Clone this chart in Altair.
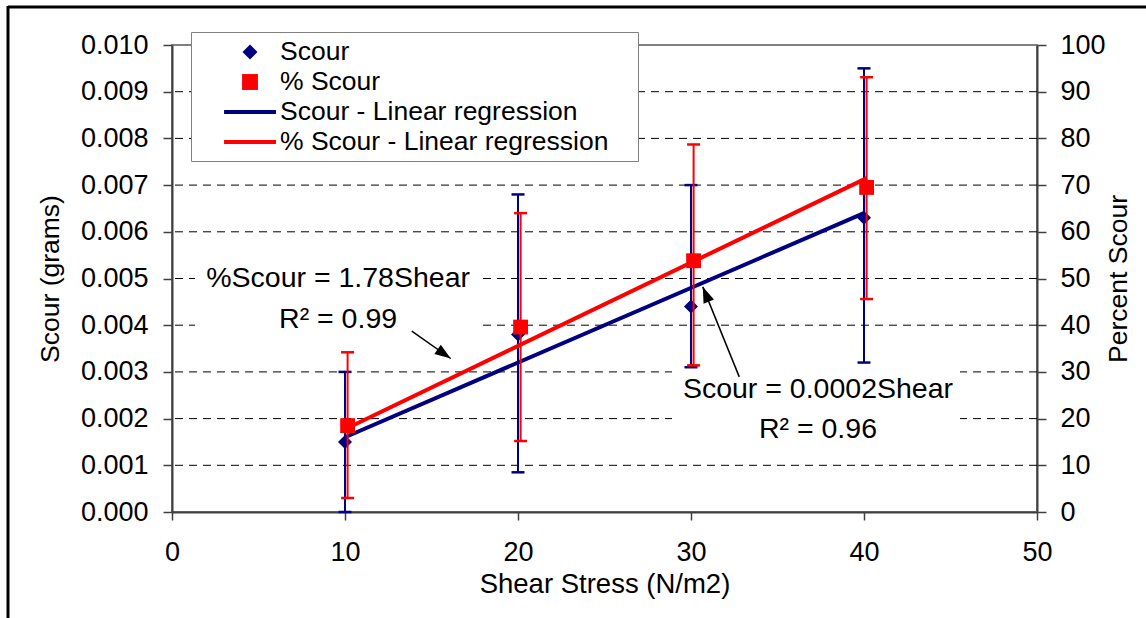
import altair as alt
import pandas as pd

# ---------------- data ----------------
shear = [10, 20, 30, 40]
shear_pct = [10.15, 20.15, 30.15, 40.15]          # % series plotted slightly right
scour = [0.0015, 0.0038, 0.0044, 0.0063]
scour_lo = [0.0000, 0.00085, 0.0031, 0.0032]
scour_hi = [0.0030, 0.0068, 0.0070, 0.0095]
pct = [18.5, 39.6, 53.8, 69.5]
pct_lo = [3.0, 15.2, 31.4, 45.6]
pct_hi = [34.2, 64.0, 78.7, 93.1]

fit_x = [10, 40]
scour_fit = [0.0016, 0.0064]
pct_fit_x = [10.15, 40.15]
pct_fit = [18.0, 71.5]

series_names = ["Scour", "% Scour", "Scour - Linear regression", "% Scour - Linear regression"]
series_colors = ["#000080", "#ff0000", "#000080", "#ff0000"]

x_ticks = [0, 10, 20, 30, 40, 50]
scour_ticks = [0.000, 0.001, 0.002, 0.003, 0.004, 0.005, 0.006, 0.007, 0.008, 0.009, 0.010]
pct_ticks = [0, 10, 20, 30, 40, 50, 60, 70, 80, 90, 100]
grid_vals = [0.001, 0.002, 0.003, 0.004, 0.005, 0.006, 0.007, 0.008, 0.009]

ann_text = ["%Scour = 1.78Shear", "R\u00b2 = 0.99", "Scour = 0.0002Shear", "R\u00b2 = 0.96"]
ann_x = [9.6, 9.6, 37.34, 37.34]
ann_y = [0.00482, 0.00393, 0.00245, 0.00159]

box_x = [1.33, 28.9]
box_x2 = [17.8, 45.55]
box_y = [0.0055, 0.00308]
box_y2 = [0.00357, 0.00132]

arrow_x = [13.86, 32.79]
arrow_y = [0.003872, 0.002893]
arrow_x2 = [16.11, 30.68]
arrow_y2 = [0.003287, 0.004821]
arrow_angle = [125, 338]

# ---------------- styling ----------------
FONT = "Liberation Sans"
BLUE = "#000080"
RED = "#ff0000"
AX = "#404040"

diamond = "M0,-0.5L0.5,0L0,0.5L-0.5,0Z"
square = "M-0.53,-0.53L0.53,-0.53L0.53,0.53L-0.53,0.53Z"
linesym = "M-1.73,-0.13L1.73,-0.13L1.73,0.13L-1.73,0.13Z"
arrowhead = "M0,0L0.35,1L-0.35,1Z"

blue = pd.DataFrame({"shear": shear, "val": scour, "lo": scour_lo, "hi": scour_hi,
                     "series": ["Scour"] * len(shear)})
red = pd.DataFrame({"shear": shear_pct, "val": pct, "lo": pct_lo, "hi": pct_hi,
                    "series": ["% Scour"] * len(shear_pct)})
blue_fit = pd.DataFrame({"shear": fit_x, "val": scour_fit})
red_fit = pd.DataFrame({"shear": pct_fit_x, "val": pct_fit})
grid = pd.DataFrame({"g": grid_vals})
ann = pd.DataFrame({"shear": ann_x, "val": ann_y, "t": ann_text})
boxes = pd.DataFrame({"shear": box_x, "x2": box_x2, "val": box_y, "y2": box_y2})
arrows = pd.DataFrame({"shear": arrow_x, "val": arrow_y, "x2": arrow_x2, "y2": arrow_y2,
                       "ang": arrow_angle})
frame = pd.DataFrame({"a": [0]})

x_axis = alt.Axis(values=x_ticks, format="d", title="Shear Stress (N/m2)", grid=False,
                  tickSize=8, tickColor=AX, tickWidth=1.5, domainColor=AX, domainWidth=2,
                  labelFontSize=27, labelPadding=19, labelColor="black", labelFlush=False,
                  labelOverlap=False, titleFontSize=27.5, titlePadding=5, titleColor="black",
                  titleFontWeight="normal")
x_scale = alt.Scale(domain=[0, 50], nice=False, zero=False)

yl_axis = alt.Axis(values=scour_ticks, format=".3f", title="Scour (grams)", grid=False,
                   orient="left", tickSize=9, tickColor=AX, tickWidth=1.5, domainColor=AX,
                   domainWidth=2, labelFontSize=27, labelPadding=15, labelColor="black",
                   labelOverlap=False, titleFontSize=26.5, titlePadding=16, titleColor="black",
                   titleFontWeight="normal")
yl_scale = alt.Scale(domain=[0, 0.010], nice=False, zero=False)

yr_axis = alt.Axis(values=pct_ticks, format="d", title="Percent Scour", grid=False,
                   orient="right", tickSize=9, tickColor=AX, tickWidth=1.5, domainColor=AX,
                   domainWidth=2, labelFontSize=27, labelPadding=14, labelColor="black",
                   labelOverlap=False, titleFontSize=26.5, titlePadding=0, titleColor="black",
                   titleFontWeight="normal", titleAngle=270, titleBaseline="top")
yr_scale = alt.Scale(domain=[0, 100], nice=False, zero=False)


def X(f="shear"):
    return alt.X(f"{f}:Q", scale=x_scale, axis=x_axis)


def YL(f="val"):
    return alt.Y(f"{f}:Q", scale=yl_scale, axis=yl_axis)


def YR(f="val"):
    return alt.Y(f"{f}:Q", scale=yr_scale, axis=yr_axis)


leg = alt.Legend(title=" ", titleOrient="right", titlePadding=25, titleFontSize=26,
                 orient="none", legendX=19, legendY=-13, padding=5,
                 strokeColor="#808080", fillColor="#ffffff", symbolSize=900,
                 symbolStrokeWidth=0, symbolOffset=39, labelOffset=15, labelFontSize=26.5,
                 labelFont=FONT, labelColor="black", labelLimit=600, rowPadding=1,
                 symbolOpacity=1)
color_scale = alt.Scale(domain=series_names, range=series_colors)
shape_scale = alt.Scale(domain=series_names, range=[diamond, square, linesym, linesym])

# ---------------- left (grams) layers ----------------
frame_top = alt.Chart(frame).mark_rule(color="black", strokeWidth=3).encode(
    x=alt.value(-164), x2=alt.value(990), y=alt.value(-38))
frame_left = alt.Chart(frame).mark_rule(color="black", strokeWidth=3).encode(
    x=alt.value(-164), y=alt.value(-39), y2=alt.value(590))

grid_rule = alt.Chart(grid).mark_rule(color="#000000", strokeWidth=1, strokeDash=[8, 6]).encode(
    y=alt.Y("g:Q", scale=yl_scale, axis=yl_axis))

box_rect = alt.Chart(boxes).mark_rect(color="white").encode(
    x=X(), x2="x2:Q", y=YL(), y2="y2:Q")

blue_err = alt.Chart(blue).mark_rule(color=BLUE, strokeWidth=2).encode(
    x=X(), y=YL("lo"), y2="hi:Q")
blue_cap_lo = alt.Chart(blue).mark_tick(color=BLUE, orient="horizontal", size=13,
                                        thickness=2.5, opacity=1).encode(x=X(), y=YL("lo"))
blue_cap_hi = alt.Chart(blue).mark_tick(color=BLUE, orient="horizontal", size=13,
                                        thickness=2.5, opacity=1).encode(x=X(), y=YL("hi"))
blue_line = alt.Chart(blue_fit).mark_line(color=BLUE, strokeWidth=4).encode(x=X(), y=YL())
blue_pts = alt.Chart(blue).mark_point(filled=True, size=784, opacity=1).encode(
    x=X(), y=YL(),
    color=alt.Color("series:N", scale=color_scale, legend=leg),
    shape=alt.Shape("series:N", scale=shape_scale, legend=leg))

ann_txt = alt.Chart(ann).mark_text(font=FONT, fontSize=28.5, align="center",
                                   baseline="alphabetic", color="black").encode(
    x=X(), y=YL(), text="t:N")
arrow_rule = alt.Chart(arrows).mark_rule(color="black", strokeWidth=1.5).encode(
    x=X(), y=YL(), x2="x2:Q", y2="y2:Q")
arrow_head = alt.Chart(arrows).mark_point(shape=arrowhead, filled=True, size=1024,
                                          color="black", opacity=1).encode(
    x=alt.X("x2:Q", scale=x_scale, axis=x_axis),
    y=alt.Y("y2:Q", scale=yl_scale, axis=yl_axis),
    angle=alt.Angle("ang:Q", scale=None))

left = alt.layer(frame_top, frame_left, grid_rule, box_rect, blue_err, blue_cap_lo,
                 blue_cap_hi, blue_line, blue_pts, ann_txt, arrow_rule, arrow_head)

# ---------------- right (percent) layers ----------------
red_err = alt.Chart(red).mark_rule(color=RED, strokeWidth=2).encode(
    x=X(), y=YR("lo"), y2="hi:Q")
red_cap_lo = alt.Chart(red).mark_tick(color=RED, orient="horizontal", size=13,
                                      thickness=2.5, opacity=1).encode(x=X(), y=YR("lo"))
red_cap_hi = alt.Chart(red).mark_tick(color=RED, orient="horizontal", size=13,
                                      thickness=2.5, opacity=1).encode(x=X(), y=YR("hi"))
red_line = alt.Chart(red_fit).mark_line(color=RED, strokeWidth=4).encode(x=X(), y=YR())
red_pts = alt.Chart(red).mark_point(filled=True, size=784, opacity=1).encode(
    x=X(), y=YR(),
    color=alt.Color("series:N", scale=color_scale, legend=leg),
    shape=alt.Shape("series:N", scale=shape_scale, legend=leg))

right = alt.layer(red_err, red_cap_lo, red_cap_hi, red_line, red_pts)

chart = alt.layer(left, right).resolve_scale(y="independent").properties(
    width=865, height=467,
    autosize=alt.AutoSizeParams(type="none"),
    padding={"left": 172, "top": 45, "right": 109, "bottom": 106},
    background="white",
).configure(font=FONT).configure_view(stroke="#808080", strokeWidth=2)

chart.save("out.html", embed_options={"renderer": "svg", "actions": False})
